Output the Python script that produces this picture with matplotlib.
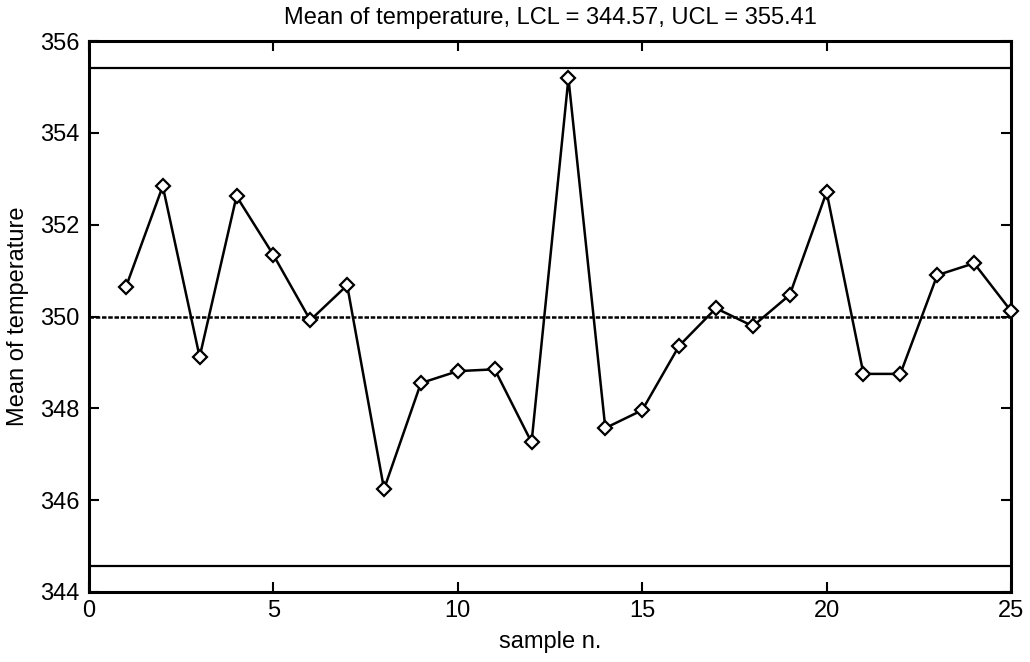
import matplotlib
matplotlib.use("Agg")
import matplotlib.pyplot as plt
import numpy as np

samples = list(range(1, 26))
means = [350.64, 352.84, 349.12, 352.62, 351.34, 349.92, 350.68, 346.24, 348.55,
         348.81, 348.85, 347.26, 355.19, 347.57, 347.96, 349.36, 350.18, 349.79,
         350.47, 352.71, 348.75, 348.75, 350.90, 351.16, 350.12]
LCL = 344.57
UCL = 355.41
center = 349.99
xticks = [0, 5, 10, 15, 20, 25]
yticks = [344, 346, 348, 350, 352, 354, 356]

plt.rcParams['font.family'] = ['Liberation Sans', 'DejaVu Sans']

fig = plt.figure(figsize=(10.3, 6.62), dpi=100)
ax = fig.add_axes([89/1030, 1-592/662, (1011-89)/1030, (592-41)/662])

ax.plot(samples, means, color='black', lw=1.8, marker='D', markersize=7.5,
        markerfacecolor='white', markeredgecolor='black', markeredgewidth=1.6, zorder=3,
        clip_on=False)
ax.axhline(UCL, color='black', lw=1.6)
ax.axhline(LCL, color='black', lw=1.6)
ax.axhline(center, color='black', lw=1.8, linestyle=(0, (1.8, 0.7)))

ax.set_xlim(0, 25)
ax.set_ylim(344, 356)
ax.set_xticks(xticks)
ax.set_yticks(yticks)
ax.tick_params(direction='in', length=7, width=1.5, labelsize=17, top=True, right=True,
               labeltop=False, labelright=False)
ax.tick_params(axis='y', pad=7)
ax.tick_params(axis='x', pad=6)
for s in ax.spines.values():
    s.set_linewidth(2.2)

ax.set_xlabel('sample n.', fontsize=17, labelpad=6)
ax.set_ylabel('Mean of temperature', fontsize=17, labelpad=8)
ax.set_title(f'Mean of temperature, LCL = {LCL:.2f}, UCL = {UCL:.2f}', fontsize=17, pad=12)

fig.savefig('out.png', dpi=100)
